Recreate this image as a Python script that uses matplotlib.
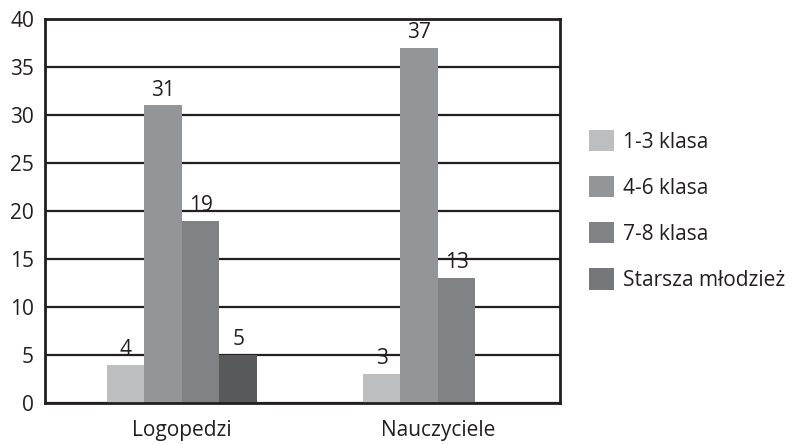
import matplotlib.pyplot as plt
import numpy as np
from matplotlib.patches import Patch

plt.rcParams['font.family'] = ['Open Sans', 'DejaVu Sans']

groups = ['Logopedzi', 'Nauczyciele']
series = ['1-3 klasa', '4-6 klasa', '7-8 klasa', 'Starsza młodzież']
values = [
    [4, 3],      # 1-3 klasa
    [31, 37],    # 4-6 klasa
    [19, 13],    # 7-8 klasa
    [5, None],   # Starsza młodzież (no bar for Nauczyciele)
]
bar_colors = ['#bcbec0', '#939598', '#808285', '#58595b']
legend_colors = ['#bcbec0', '#939598', '#808285', '#76777b']
yticks = [0, 5, 10, 15, 20, 25, 30, 35, 40]

ink = '#231f20'
fs = 15
fig = plt.figure(figsize=(7.93, 4.44), dpi=100)
ax = fig.add_axes([45 / 793, 1 - 403 / 444, 515 / 793, 384 / 444])

x = np.arange(len(groups))
w = 0.1465
for i, (vals, col) in enumerate(zip(values, bar_colors)):
    for j, v in enumerate(vals):
        if v is None:
            continue
        pos = x[j] + (i - 1.5) * w
        ax.bar(pos, v, width=w, color=col, zorder=2)
        ax.annotate(str(v), (pos, v), xytext=(0, 3.5), textcoords='offset points',
                    ha='center', va='bottom', fontsize=fs, color=ink)

ax.set_ylim(0, 40)
ax.set_xlim(-0.535, 1.477)
ax.set_yticks(yticks)
ax.set_xticks(x, labels=groups)
ax.tick_params(length=0, labelsize=fs, colors=ink, pad=8)
ax.tick_params(axis='x', pad=12)
ax.yaxis.grid(True, color=ink, linewidth=1.6, zorder=1)
ax.set_axisbelow(True)
for s in ax.spines.values():
    s.set_color(ink)
    s.set_linewidth(2)

handles = [Patch(facecolor=c, edgecolor='none') for c in legend_colors]
fig.legend(handles, series, loc='center left', bbox_to_anchor=(0.719, 0.526),
           frameon=False, fontsize=fs, handlelength=1.2, handleheight=1.2,
           handletextpad=0.45, labelspacing=1.12, labelcolor=ink)

fig.savefig('out.png', dpi=100)
